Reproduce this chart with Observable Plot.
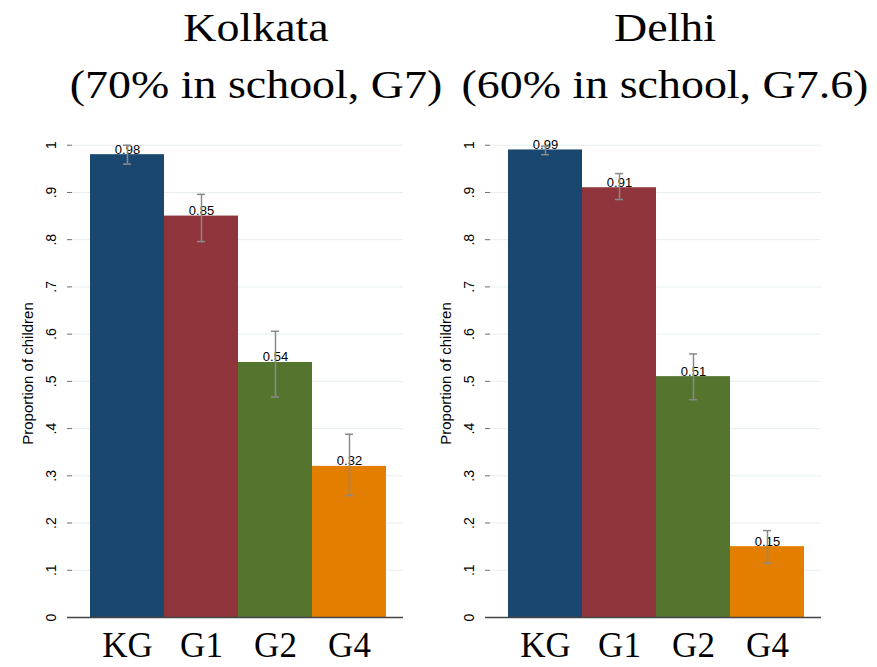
<!DOCTYPE html>
<html>
<head>
<meta charset="utf-8">
<script src="https://cdn.jsdelivr.net/npm/d3@7"></script>
<script src="https://cdn.jsdelivr.net/npm/@observablehq/plot@0.6"></script>
<style>
  html, body { margin: 0; padding: 0; background: #fff; }
  #page { position: relative; width: 877px; height: 667px; overflow: hidden; background: #fff; }
  .title {
    position: absolute; top: 0; height: 120px; text-align: center; white-space: nowrap;
    font-family: "Liberation Serif", "DejaVu Serif", serif; font-size: 41px; line-height: 48px; color: #000;
  }
  .title div { position: absolute; left: 0; width: 100%; transform: scaleX(1.12); transform-origin: center; }
  .panel { position: absolute; top: 120px; }
  .panel svg { display: block; }
</style>
</head>
<body>
<div id="page"></div>
<script>
// Grade categories and bar colours
const grades = ["KG", "G1", "G2", "G4"];
const gradeColors = ["#1a476f", "#90353b", "#55752f", "#e37e00"];

// Kolkata: proportion of children, with 95% interval
const kolkataValue = [0.98, 0.85, 0.54, 0.32];
const kolkataLow   = [0.96, 0.796, 0.467, 0.258];
const kolkataHigh  = [1.00, 0.896, 0.606, 0.388];

// Delhi: proportion of children, with 95% interval
const delhiValue = [0.99, 0.91, 0.51, 0.15];
const delhiLow   = [0.98, 0.885, 0.461, 0.115];
const delhiHigh  = [0.998, 0.940, 0.558, 0.184];

// Axis ticks and their labels
const yTicks = [0, 0.1, 0.2, 0.3, 0.4, 0.5, 0.6, 0.7, 0.8, 0.9, 1];
const yTickLabels = ["0", ".1", ".2", ".3", ".4", ".5", ".6", ".7", ".8", ".9", "1"];

const panels = [
  {title: "Kolkata", sub: "(70% in school, G7)", value: kolkataValue, low: kolkataLow, high: kolkataHigh, left: 0, width: 418, titleCenter: 256},
  {title: "Delhi", sub: "(60% in school, G7.6)", value: delhiValue, low: delhiLow, high: delhiHigh, left: 418, width: 459, titleCenter: 665}
];

const page = document.getElementById("page");
const sans = "Liberation Sans, Arial, sans-serif";

for (const p of panels) {
  const rows = grades.map((g, i) => ({grade: g, value: p.value[i], low: p.low[i], high: p.high[i]}));
  const ticks = yTicks.map((t, i) => ({t, label: yTickLabels[i]}));

  const chart = Plot.plot({
    width: p.width,
    height: 547,
    marginLeft: 72,
    marginRight: p.width - 403,
    marginTop: 9,
    marginBottom: 50,
    style: {background: "transparent", overflow: "visible"},
    x: {domain: grades, range: [89, 387], padding: 0},
    y: {domain: [0, 1.0333]},
    color: {domain: grades, range: gradeColors},
    marks: [
      // light horizontal grid
      Plot.ruleY(yTicks.filter(t => t > 0), {stroke: "#e6eef0", strokeWidth: 1}),
      // bars
      Plot.barY(rows, {x: "grade", y: "value", fill: "grade"}),
      // value labels
      Plot.text(rows, {x: "grade", y: "value", text: d => d.value.toFixed(2), lineAnchor: "bottom", dy: -1,
        fontSize: 13, fontFamily: sans, fill: "#000"}),
      // confidence intervals
      Plot.ruleX(rows, {x: "grade", y1: "low", y2: "high", stroke: "#8a8a8a", strokeWidth: 1.5}),
      Plot.tickY(rows, {x: "grade", y: "low", stroke: "#8a8a8a", strokeWidth: 1.5, insetLeft: 33, insetRight: 33}),
      Plot.tickY(rows, {x: "grade", y: "high", stroke: "#8a8a8a", strokeWidth: 1.5, insetLeft: 33, insetRight: 33}),
      // y axis line (full frame height) and ticks
      Plot.ruleX([null], {frameAnchor: "left", stroke: "#6f6f6f", strokeWidth: 1.5}),
      Plot.axisY({ticks: yTicks, tickSize: 5, tickFormat: () => "", stroke: "#6f6f6f", strokeWidth: 1, label: null}),
      // baseline
      Plot.ruleY([0], {stroke: "#444", strokeWidth: 1.5, insetLeft: -5}),
      // rotated tick labels
      Plot.text(ticks, {y: "t", text: "label", frameAnchor: "left", dx: -21, rotate: -90,
        textAnchor: "middle", lineAnchor: "middle", fontSize: 14, fontFamily: sans, fill: "#000"}),
      // y axis title
      Plot.text(["Proportion of children"], {frameAnchor: "left", dx: -44, rotate: -90,
        textAnchor: "middle", lineAnchor: "middle", fontSize: 15, fontFamily: sans, fill: "#000"}),
      // category labels
      Plot.axisX({tickSize: 0, tickPadding: 15, fontSize: 35, fontFamily: "Liberation Serif, serif", fill: "#000", label: null})
    ]
  });
  const wrap = document.createElement("div");
  wrap.className = "panel";
  wrap.style.left = p.left + "px";
  wrap.appendChild(chart);
  page.appendChild(wrap);

  const t = document.createElement("div");
  t.className = "title";
  t.style.left = (p.titleCenter - 250) + "px";
  t.style.width = "500px";
  const l1 = document.createElement("div"); l1.textContent = p.title; l1.style.top = "3px";
  const l2 = document.createElement("div"); l2.textContent = p.sub; l2.style.top = "60px";
  t.appendChild(l1); t.appendChild(l2);
  page.appendChild(t);
}
</script>
</body>
</html>
